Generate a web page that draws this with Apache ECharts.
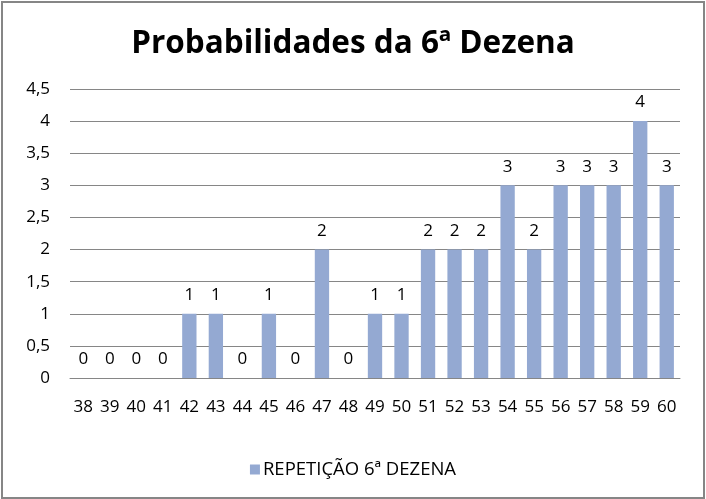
<!DOCTYPE html>
<html>
<head>
<meta charset="utf-8">
<script src="https://cdn.jsdelivr.net/npm/echarts@6/dist/echarts.min.js"></script>
<style>
html,body{margin:0;padding:0;background:#fff;}
#frame{position:absolute;left:1px;top:1px;width:700px;height:494px;border:2px solid #868686;}
#chart{position:absolute;left:0;top:0;width:706px;height:499px;}
</style>
</head>
<body>
<div id="frame"></div>
<div id="chart"></div>
<script>
const categories = ['38','39','40','41','42','43','44','45','46','47','48','49','50','51','52','53','54','55','56','57','58','59','60'];
const values = [0,0,0,0,1,1,0,1,0,2,0,1,1,2,2,2,3,2,3,3,3,4,3];
const seriesName = 'REPETIÇÃO 6ª DEZENA';
const titleText = 'Probabilidades da 6ª Dezena';

const font = 'Open Sans';
const chart = echarts.init(document.getElementById('chart'), null, {renderer:'canvas'});
chart.setOption({
  animation:false,
  backgroundColor:'transparent',
  title:{
    text:titleText,
    left:'center',
    top:23,
    textStyle:{fontFamily:font,fontWeight:'bold',fontSize:31.5,color:'#000'}
  },
  legend:{
    top:455,
    left:'center',
    itemWidth:10,
    itemHeight:10,
    itemGap:4,
    icon:'rect',
    textStyle:{fontFamily:font,fontSize:18.5,color:'#000',padding:[0,0,0,-2]},
    data:[seriesName]
  },
  grid:{left:70,right:26,top:89,bottom:121,containLabel:false},
  xAxis:{
    type:'category',
    data:categories,
    axisLine:{lineStyle:{color:'#868686',width:1}},
    axisTick:{show:false},
    axisLabel:{fontFamily:font,fontSize:17,color:'#000',margin:21,interval:0}
  },
  yAxis:{
    type:'value',
    min:0,max:4.5,interval:0.5,
    axisLine:{show:false},
    axisTick:{show:false},
    splitLine:{lineStyle:{color:'#868686',width:1}},
    axisLabel:{fontFamily:font,fontSize:17,color:'#000',margin:20,
      formatter:function(v){return String(v).replace('.',',');}}
  },
  series:[{
    name:seriesName,
    type:'bar',
    data:values,
    barWidth:'54%',
    itemStyle:{color:'#94A9D2'},
    label:{show:true,position:'top',distance:10,fontFamily:font,fontSize:17,color:'#000'}
  }]
});
</script>
</body>
</html>
